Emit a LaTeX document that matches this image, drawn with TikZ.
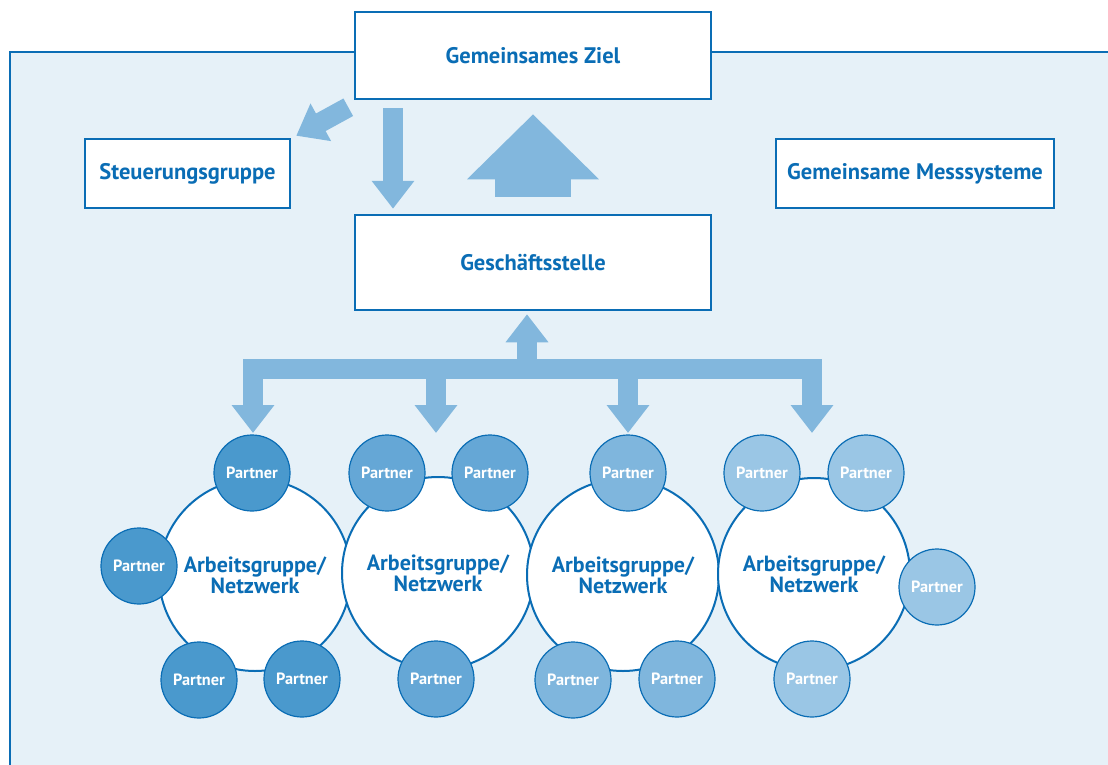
\documentclass[tikz,border=0pt]{standalone}
\usepackage{fontspec}
\setmainfont{PT Sans}
\usetikzlibrary{arrows.meta,calc}
\definecolor{panel}{HTML}{E6F1F8}
\definecolor{dblue}{HTML}{0A6DB5}
\definecolor{arrowc}{HTML}{82B7DD}
\definecolor{pone}{HTML}{4A99CD}
\definecolor{ptwo}{HTML}{65A7D6}
\definecolor{pthree}{HTML}{7FB6DD}
\definecolor{pfour}{HTML}{9AC6E5}
\tikzset{
  box/.style={draw=dblue, line width=2.5pt, fill=white, text=dblue, inner sep=0pt,
    font=\fontsize{22.5}{26}\selectfont\bfseries},
  blockarrow/.style={draw=arrowc, line width=20pt, -{Triangle[width=41pt,length=28pt]}},
  bigarrow/.style={draw=arrowc, line width=76pt, -{Triangle[width=128pt,length=65pt]}},
  group/.style={circle, draw=dblue, line width=2pt, fill=white, minimum size=192pt, inner sep=0pt,
    text=dblue, align=center, font=\fontsize{22}{20}\selectfont\bfseries},
  partner/.style={circle, draw=dblue, line width=1.2pt, minimum size=76pt, inner sep=0pt,
    text=white, font=\fontsize{16.3}{18}\selectfont\bfseries},
}
\begin{document}
\begin{tikzpicture}[x=1pt,y=-1pt]
\clip (0,0) rectangle (1108,765);
\fill[white] (0,0) rectangle (1108,765);
\fill[panel] (10,52) rectangle (1130,790);
\draw[dblue, line width=2.5pt] (10,790) -- (10,52) -- (1130,52);

\node[box, minimum width=356pt, minimum height=87pt] (ziel) at (533,55.5) {Gemeinsames Ziel};
\node[box, minimum width=205pt, minimum height=69pt] (steuer) at (187.5,173.5) {Steuerungsgruppe};
\node[box, minimum width=278pt, minimum height=69pt] (mess) at (915,173.5) {Gemeinsame Messsysteme};
\node[box, minimum width=356pt, minimum height=95pt] (gs) at (533,262.5) {Geschäftsstelle};

\draw[blockarrow] ($(ziel.south west)+(-5.5,7)$) -- ($(steuer.north east)+(5,-2)$);
\draw[blockarrow] ($(ziel.south)+(-140,8)$) -- ($(gs.north)+(-140,-5)$);
\draw[bigarrow] ($(gs.north)+(0,-17)$) -- ($(ziel.south)+(0,14)$);

\coordinate (hub) at (527,369);
\coordinate (t1) at (253,433);
\coordinate (t2) at (436,433);
\coordinate (t3) at (628,433);
\coordinate (t4) at (812,433);
\draw[blockarrow] (hub) -- ($(gs.south)+(-6,3)$);
\draw[blockarrow, {Triangle[width=41pt,length=28pt]}-{Triangle[width=41pt,length=28pt]}, line join=miter] (t1) |- (hub) -| (t4);
\draw[blockarrow] (t2 |- hub) -- (t2);
\draw[blockarrow] (t3 |- hub) -- (t3);

\node[group] (ag1) at (255,575) {Arbeitsgruppe/\\Netzwerk};
\node[group] (ag2) at (438,573) {Arbeitsgruppe/\\Netzwerk};
\node[group] (ag3) at (623,575) {Arbeitsgruppe/\\Netzwerk};
\node[group] (ag4) at (814,574) {Arbeitsgruppe/\\Netzwerk};

\node[partner, fill=pone] (p11) at (252,473) {Partner};
\node[partner, fill=pone] (p12) at (139,566) {Partner};
\node[partner, fill=pone] (p13) at (199,680) {Partner};
\node[partner, fill=pone] (p14) at (302,679) {Partner};

\node[partner, fill=ptwo] (p21) at (387,473) {Partner};
\node[partner, fill=ptwo] (p22) at (490,473) {Partner};
\node[partner, fill=ptwo] (p23) at (436,679) {Partner};

\node[partner, fill=pthree] (p31) at (628,473) {Partner};
\node[partner, fill=pthree] (p32) at (573,680) {Partner};
\node[partner, fill=pthree] (p33) at (677,679) {Partner};

\node[partner, fill=pfour] (p41) at (762,473) {Partner};
\node[partner, fill=pfour] (p42) at (866,473) {Partner};
\node[partner, fill=pfour] (p43) at (937,587) {Partner};
\node[partner, fill=pfour] (p44) at (812,679) {Partner};
\end{tikzpicture}
\end{document}
